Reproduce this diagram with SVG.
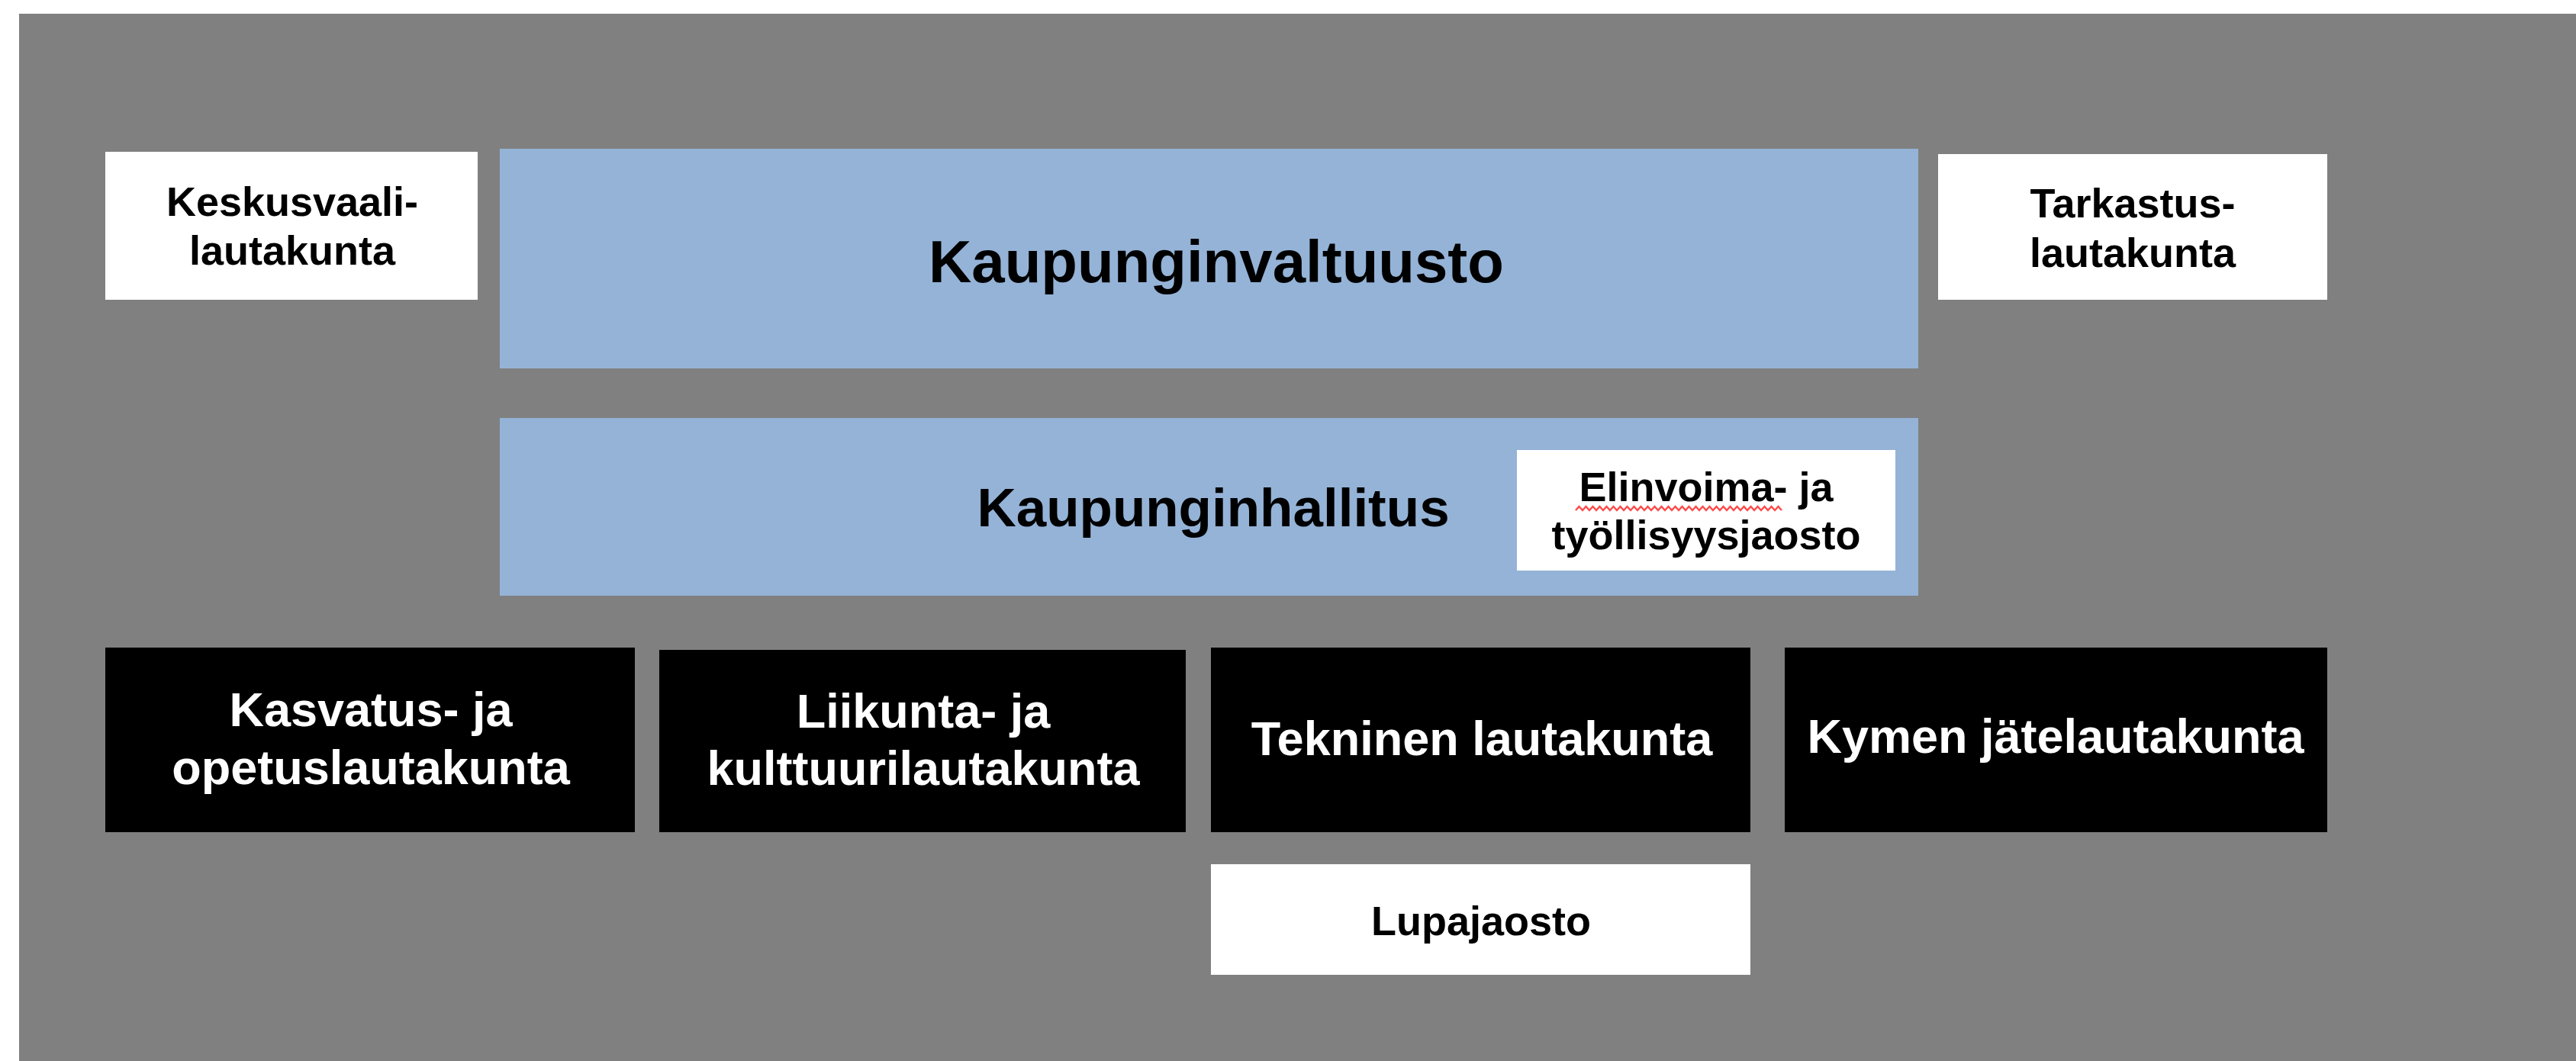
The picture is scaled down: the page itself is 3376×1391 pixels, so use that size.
<svg xmlns="http://www.w3.org/2000/svg" width="3376" height="1391" viewBox="0 0 3376 1391">
  <style>
    text { font-family: "Liberation Sans", Arial, sans-serif; font-weight: bold; text-anchor: middle; }
    .white { fill: #ffffff; }
    .blue { fill: #95b3d7; }
    .black { fill: #000000; }
    .tdark { fill: #000000; }
    .tlight { fill: #ffffff; }
    .s54 { font-size: 54px; }
    .s63 { font-size: 63px; }
  </style>
  <rect x="0" y="0" width="3376" height="1391" fill="#ffffff"/>
  <rect x="25" y="18" width="3351" height="1373" fill="#808080"/>

  <g id="keskusvaalilautakunta">
    <rect class="white" x="138" y="199" width="488" height="194"/>
    <text class="tdark s54" x="383" y="283">Keskusvaali-</text>
    <text class="tdark s54" x="383" y="347">lautakunta</text>
  </g>

  <g id="kaupunginvaltuusto">
    <rect class="blue" x="655" y="195" width="1859" height="288"/>
    <text class="tdark" x="1594" y="370" font-size="78">Kaupunginvaltuusto</text>
  </g>

  <g id="tarkastuslautakunta">
    <rect class="white" x="2540" y="202" width="510" height="191"/>
    <text class="tdark s54" x="2795" y="285">Tarkastus-</text>
    <text class="tdark s54" x="2795" y="350">lautakunta</text>
  </g>

  <g id="kaupunginhallitus">
    <rect class="blue" x="655" y="548" width="1859" height="233"/>
    <text class="tdark" x="1590" y="690" font-size="71">Kaupunginhallitus</text>
  </g>

  <g id="elinvoimajaosto">
    <rect class="white" x="1988" y="590" width="496" height="158"/>
    <text class="tdark s54" x="2236" y="657">Elinvoima- ja</text>
    <path d="M2065,669 l4.5,-5 l4.5,5 l4.5,-5 l4.5,5 l4.5,-5 l4.5,5 l4.5,-5 l4.5,5 l4.5,-5 l4.5,5 l4.5,-5 l4.5,5 l4.5,-5 l4.5,5 l4.5,-5 l4.5,5 l4.5,-5 l4.5,5 l4.5,-5 l4.5,5 l4.5,-5 l4.5,5 l4.5,-5 l4.5,5 l4.5,-5 l4.5,5 l4.5,-5 l4.5,5 l4.5,-5 l4.5,5 l4.5,-5 l4.5,5 l4.5,-5 l4.5,5 l4.5,-5 l4.5,5 l4.5,-5 l4.5,5 l4.5,-5 l4.5,5 l4.5,-5 l4.5,5 l4.5,-5 l4.5,5 l4.5,-5 l4.5,5 l4.5,-5 l4.5,5 l4.5,-5 l4.5,5 l4.5,-5 l4.5,5 l4.5,-5 l4.5,5 l4.5,-5 l4.5,5 l4.5,-5 l4.5,5 l4.5,-5 l4.5,5" fill="none" stroke="#ff4a4a" stroke-width="2.5"/>
    <text class="tdark s54" x="2236" y="720">työllisyysjaosto</text>
  </g>

  <g id="kasvatuslautakunta">
    <rect class="black" x="138" y="849" width="694" height="242"/>
    <text class="tlight s63" x="486" y="952">Kasvatus- ja</text>
    <text class="tlight s63" x="486" y="1028">opetuslautakunta</text>
  </g>

  <g id="liikuntalautakunta">
    <rect class="black" x="864" y="852" width="690" height="239"/>
    <text class="tlight s63" x="1210" y="954">Liikunta- ja</text>
    <text class="tlight s63" x="1210" y="1029">kulttuurilautakunta</text>
  </g>

  <g id="tekninenlautakunta">
    <rect class="black" x="1587" y="849" width="707" height="242"/>
    <text class="tlight s63" x="1942" y="990">Tekninen lautakunta</text>
  </g>

  <g id="kymenjatelautakunta">
    <rect class="black" x="2339" y="849" width="711" height="242"/>
    <text class="tlight s63" x="2694" y="987">Kymen jätelautakunta</text>
  </g>

  <g id="lupajaosto">
    <rect class="white" x="1587" y="1133" width="707" height="145"/>
    <text class="tdark s54" x="1941" y="1226">Lupajaosto</text>
  </g>

  <g id="connectors"></g>
</svg>
